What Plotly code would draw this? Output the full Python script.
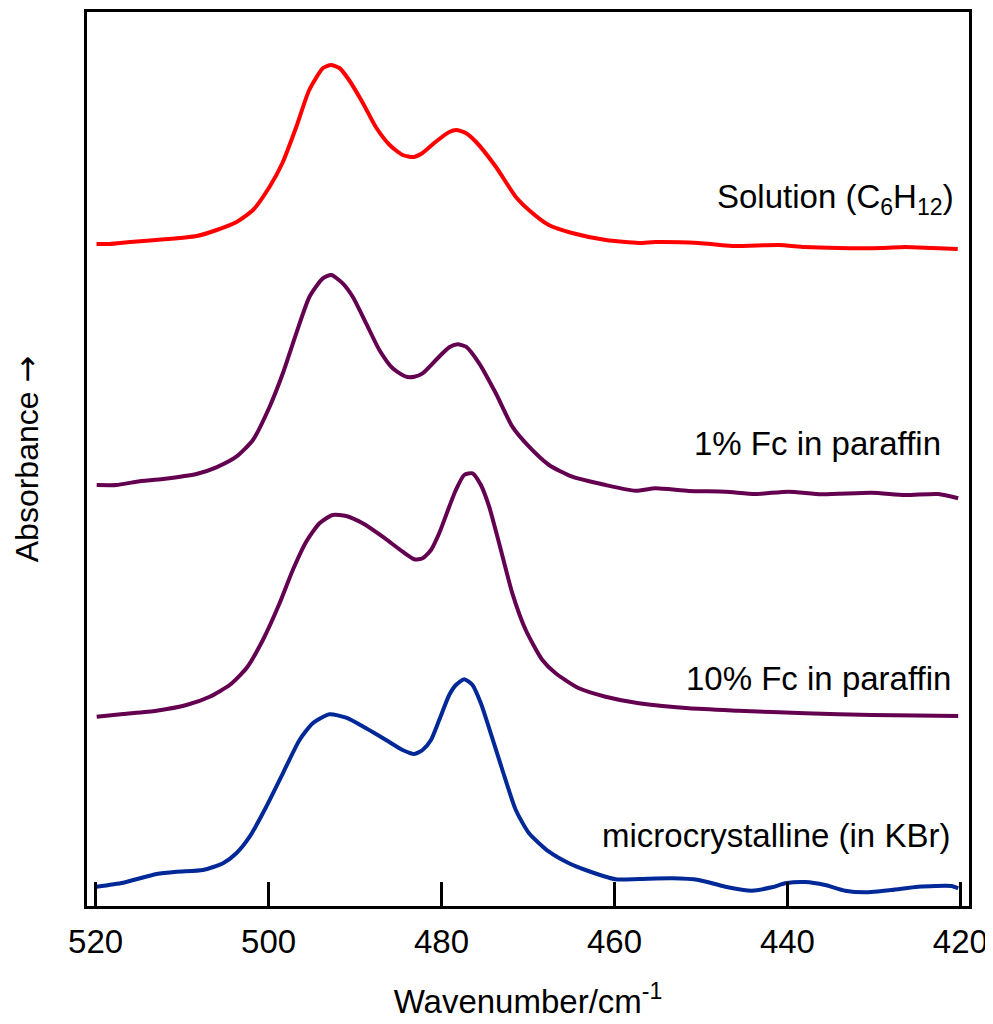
import plotly.graph_objects as go

# Wavenumbers (cm^-1) and absorbance (arbitrary, stacked)
wn_solution = [519.9, 518.4, 516.0, 513.0, 508.3, 506.0, 503.7, 501.8, 499.9, 498.4,
               496.8, 495.3, 493.7, 492.8, 491.8, 490.7, 489.1, 487.6, 486.0, 484.5,
               483.2, 482.2, 480.7, 479.1, 478.3, 477.2, 476.0, 473.7, 471.4, 469.9,
               467.6, 464.9, 461.0, 457.2, 455.3, 450.3, 446.4, 441.0, 438.0, 434.1,
               429.1, 426.4, 423.3, 420.3]
abs_solution = [6.62, 6.62, 6.64, 6.66, 6.70, 6.76, 6.84, 6.96, 7.19, 7.43,
                7.79, 8.16, 8.38, 8.41, 8.38, 8.26, 8.03, 7.79, 7.61, 7.51,
                7.49, 7.53, 7.64, 7.74, 7.76, 7.73, 7.64, 7.39, 7.09, 6.96,
                6.81, 6.73, 6.66, 6.63, 6.64, 6.63, 6.60, 6.61, 6.59, 6.58,
                6.58, 6.59, 6.58, 6.57]

wn_1pct = [519.88, 517.58, 515.27, 512.20, 508.34, 506.04, 503.73, 501.81, 499.88, 498.35,
           496.80, 495.27, 493.73, 492.76, 491.43, 490.27, 488.72, 487.19, 485.65, 484.11,
           483.15, 482.19, 480.65, 479.11, 478.15, 477.18, 475.65, 473.72, 471.81, 469.88,
           467.57, 464.88, 461.03, 457.57, 455.26, 451.41, 447.18, 443.72, 439.87, 436.03,
           430.26, 426.40, 422.56, 420.25]
abs_1pct = [4.21, 4.21, 4.243, 4.27, 4.32, 4.387, 4.493, 4.66, 4.993, 5.327,
            5.727, 6.093, 6.277, 6.31, 6.227, 6.093, 5.827, 5.56, 5.377, 5.293,
            5.293, 5.327, 5.46, 5.587, 5.617, 5.593, 5.427, 5.127, 4.793, 4.593,
            4.41, 4.293, 4.21, 4.153, 4.177, 4.15, 4.143, 4.12, 4.143, 4.117,
            4.133, 4.11, 4.12, 4.077]

wn_10pct = [519.88, 516.81, 512.96, 509.50, 506.81, 504.50, 502.57, 500.66, 498.73, 497.20,
            495.65, 494.11, 492.58, 491.03, 489.12, 486.81, 484.50, 483.15, 482.19, 481.22,
            480.27, 479.11, 478.34, 477.38, 476.42, 475.45, 474.49, 473.34, 471.81, 470.26,
            468.34, 466.80, 464.11, 461.03, 457.18, 451.41, 445.64, 437.95, 430.26, 420.25]
abs_10pct = [1.893, 1.92, 1.953, 2.01, 2.093, 2.21, 2.377, 2.66, 3.027, 3.36,
             3.643, 3.827, 3.91, 3.90, 3.827, 3.693, 3.543, 3.467, 3.477, 3.56,
             3.727, 3.993, 4.16, 4.31, 4.327, 4.21, 3.993, 3.627, 3.127, 2.76,
             2.46, 2.327, 2.177, 2.093, 2.027, 1.977, 1.953, 1.927, 1.91, 1.90]

wn_micro = [519.88, 516.81, 512.96, 510.65, 507.58, 505.27, 503.73, 502.19, 500.27, 498.35,
            496.42, 494.89, 492.96, 491.03, 488.72, 486.42, 484.50, 483.15, 482.19, 481.22,
            480.27, 479.11, 478.34, 477.38, 476.42, 475.45, 474.49, 472.96, 471.41, 469.88,
            467.57, 465.26, 463.34, 459.87, 457.18, 453.34, 450.26, 447.18, 444.11, 441.80,
            440.25, 437.95, 435.64, 433.33, 431.02, 427.95, 424.87, 421.03, 420.25]
abs_micro = [0.193, 0.233, 0.32, 0.343, 0.36, 0.427, 0.527, 0.693, 0.993, 1.327,
             1.66, 1.827, 1.917, 1.883, 1.777, 1.66, 1.56, 1.52, 1.56, 1.66,
             1.86, 2.11, 2.21, 2.267, 2.21, 2.027, 1.777, 1.36, 0.96, 0.727,
             0.543, 0.427, 0.36, 0.267, 0.27, 0.277, 0.26, 0.193, 0.153, 0.187,
             0.227, 0.24, 0.21, 0.153, 0.137, 0.16, 0.193, 0.20, 0.177]

labels = ["Solution (C<sub>6</sub>H<sub>12</sub>)", "1% Fc in paraffin",
          "10% Fc in paraffin", "microcrystalline (in KBr)"]
x_ticks = [520, 500, 480, 460, 440, 420]

series = [
    (wn_solution, abs_solution, "#ff0000"),
    (wn_1pct, abs_1pct, "#640050"),
    (wn_10pct, abs_10pct, "#640050"),
    (wn_micro, abs_micro, "#002896"),
]

FONT = "Liberation Sans, Arial, sans-serif"

fig = go.Figure()
for (xs, ys, col), name in zip(series, labels):
    fig.add_trace(go.Scatter(x=xs, y=ys, mode="lines", name=name,
                             line=dict(color=col, width=4, shape="spline", smoothing=0.6),
                             showlegend=False, hoverinfo="skip"))

# label positions (paper coords), right-aligned
label_pos = [(0.985, 0.791), (0.970, 0.517), (0.982, 0.254), (0.981, 0.079)]
for text, (px, py) in zip(labels, label_pos):
    fig.add_annotation(x=px, y=py, xref="paper", yref="paper", text=text,
                       showarrow=False, xanchor="right", yanchor="middle",
                       font=dict(family=FONT, size=33, color="black"))

# page body has an 8px default margin, so the figure is sized to fit the window
fig.update_layout(
    width=985, height=1016,
    margin=dict(l=79, r=24, t=4, b=118, autoexpand=False),
    paper_bgcolor="white", plot_bgcolor="white",
    font=dict(family=FONT, size=33, color="black"),
)
fig.update_xaxes(
    range=[521, 419], tickmode="array", tickvals=x_ticks,
    ticktext=[str(v) for v in x_ticks],
    ticks="inside", ticklen=24, tickwidth=3, tickcolor="black",
    showline=True, linecolor="black", linewidth=3, mirror=True,
    showgrid=False, zeroline=False, automargin=False,
    tickfont=dict(family=FONT, size=33), ticklabelstandoff=4,
    title=dict(text="Wavenumber/cm<sup>-1</sup>", font=dict(family=FONT, size=33), standoff=32),
)
fig.update_yaxes(
    range=[0, 8.94], showticklabels=False, ticks="",
    showline=True, linecolor="black", linewidth=3, mirror=True,
    showgrid=False, zeroline=False, automargin=False,
    title=dict(text="Absorbance <span style='font-family:DejaVu Sans'>→</span>",
               font=dict(family=FONT, size=32), standoff=40),
)

fig.write_html("out.html")
